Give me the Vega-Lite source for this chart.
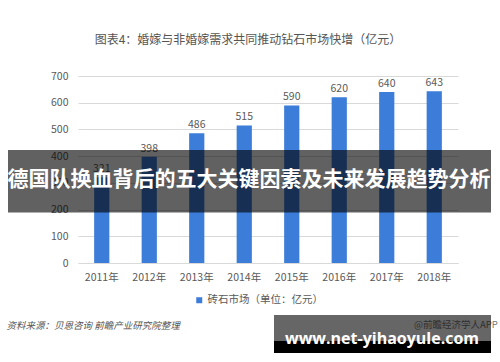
{
  "$schema": "https://vega.github.io/schema/vega-lite/v6.json",
  "autosize": "none",
  "width": 380,
  "height": 187,
  "padding": {"left": 78, "top": 76, "right": 42, "bottom": 99},
  "background": "white",
  "config": {
    "view": {"stroke": null},
    "font": "Noto Sans CJK SC"
  },
  "title": {
    "text": "图表4：婚嫁与非婚嫁需求共同推动钻石市场快增（亿元）",
    "anchor": "middle",
    "frame": "group",
    "dx": -20,
    "offset": 24,
    "fontSize": 12,
    "fontWeight": "normal",
    "color": "#555555",
    "font": "Noto Sans CJK SC"
  },
  "layer": [
    {
      "data": {
        "values": [
          {"year": "2011年", "value": 321},
          {"year": "2012年", "value": 398},
          {"year": "2013年", "value": 486},
          {"year": "2014年", "value": 515},
          {"year": "2015年", "value": 590},
          {"year": "2016年", "value": 620},
          {"year": "2017年", "value": 640},
          {"year": "2018年", "value": 643}
        ]
      },
      "encoding": {
        "x": {
          "field": "year",
          "type": "ordinal",
          "scale": {"paddingInner": 0.68, "paddingOuter": 0.34},
          "axis": {
            "title": "资料来源：贝恩咨询 前瞻产业研究院整理",
            "titleFontStyle": "italic",
            "titleFontWeight": "normal",
            "titleFontSize": 9.5,
            "titleColor": "#555555",
            "titleAnchor": "start",
            "titleAlign": "left",
            "titleX": -72,
            "titleY": 57,
            "labelAngle": 0,
            "labelFontSize": 10.5,
            "labelColor": "#595959",
            "labelPadding": 9,
            "ticks": false,
            "domainColor": "#d9d9d9",
            "grid": false
          }
        },
        "y": {
          "field": "value",
          "type": "quantitative",
          "scale": {"domain": [0, 700]},
          "axis": {
            "title": null,
            "values": [0, 100, 200, 300, 400, 500, 600, 700],
            "labelFontSize": 10.5,
            "labelColor": "#595959",
            "labelPadding": 10,
            "ticks": false,
            "domain": false,
            "gridColor": "#d9d9d9"
          }
        }
      },
      "layer": [
        {
          "mark": {"type": "bar"},
          "encoding": {
            "color": {
              "datum": "砖石市场（单位：亿元）",
              "scale": {"range": ["#3b7dd8"]},
              "legend": {
                "title": null,
                "orient": "none",
                "legendX": 116,
                "legendY": 219,
                "symbolType": "square",
                "symbolSize": 36,
                "labelFontSize": 10.5,
                "labelColor": "#595959",
                "labelOffset": 3
              }
            }
          }
        },
        {
          "mark": {"type": "text", "dy": -8, "fontSize": 10.5, "color": "#595959"},
          "encoding": {"text": {"field": "value", "type": "quantitative"}}
        }
      ]
    },
    {
      "data": {"values": [{"label": "德国队换血背后的五大关键因素及未来发展趋势分析"}]},
      "layer": [
        {
          "mark": {"type": "rect", "color": "black", "opacity": 0.62},
          "encoding": {
            "x": {"value": -70},
            "x2": {"value": 413},
            "y": {"value": 74},
            "y2": {"value": 136.5}
          }
        },
        {
          "mark": {"type": "text", "fontSize": 21, "fontWeight": "bold", "color": "white", "align": "center", "baseline": "middle", "font": "Noto Sans CJK SC"},
          "encoding": {
            "x": {"value": 171},
            "y": {"value": 104},
            "text": {"field": "label"}
          }
        }
      ]
    },
    {
      "data": {"values": [{"app": "@前瞻经济学人APP", "site": "www.net-yihaoyule.com"}]},
      "layer": [
        {
          "mark": {"type": "text", "fontSize": 9.5, "color": "#777777", "align": "left", "baseline": "middle"},
          "encoding": {
            "x": {"value": 336},
            "y": {"value": 249},
            "text": {"field": "app"}
          }
        },
        {
          "mark": {"type": "rect", "color": "black", "opacity": 0.6},
          "encoding": {
            "x": {"value": 196},
            "x2": {"value": 413},
            "y": {"value": 239},
            "y2": {"value": 265}
          }
        },
        {
          "mark": {"type": "rect", "color": "black", "opacity": 1},
          "encoding": {
            "x": {"value": 196},
            "x2": {"value": 413},
            "y": {"value": 265},
            "y2": {"value": 277}
          }
        },
        {
          "mark": {"type": "text", "fontSize": 16, "fontWeight": "bold", "color": "white", "align": "center", "baseline": "alphabetic", "font": "Open Sans"},
          "encoding": {
            "x": {"value": 304},
            "y": {"value": 268},
            "text": {"field": "site"}
          }
        }
      ]
    }
  ]
}
